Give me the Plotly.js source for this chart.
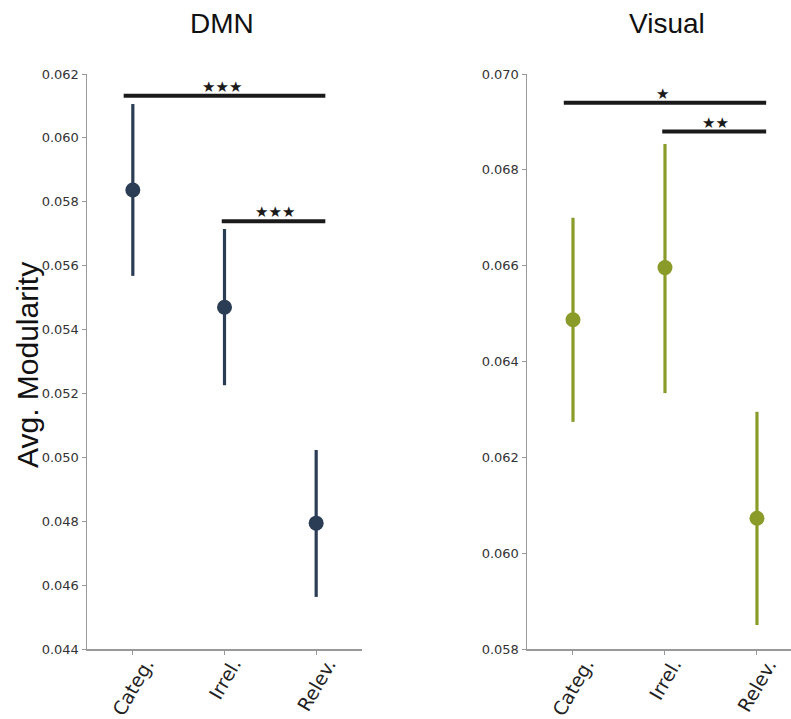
<!DOCTYPE html>
<html>
<head>
<meta charset="utf-8">
<script src="https://cdn.plot.ly/plotly-3.0.1.min.js"></script>
<style>
  html, body { margin: 0; padding: 0; background: #fff; }
  #chart { width: 791px; height: 719px; }
</style>
</head>
<body>
<div id="chart"></div>
<script>
// Conditions shared by both panels
const categories = ["Categ.", "Irrel.", "Relev."];

// DMN: mean modularity with upper / lower interval bounds
const dmnMean  = [0.05837, 0.05470, 0.04794];
const dmnUpper = [0.06106, 0.05715, 0.05023];
const dmnLower = [0.05568, 0.05226, 0.04563];

// Visual: mean modularity with upper / lower interval bounds
const visMean  = [0.06487, 0.06596, 0.06073];
const visUpper = [0.06700, 0.06854, 0.06295];
const visLower = [0.06274, 0.06334, 0.05850];

// Significance brackets: [from index, to index, height, stars]
const dmnSig = [[0, 2, 0.06132, "★★★"], [1, 2, 0.05739, "★★★"]];
const visSig = [[0, 2, 0.06940, "★"],   [1, 2, 0.06880, "★★"]];

const dmnColor = "#2b3d55";
const visColor = "#8a9b2a";

function trace(mean, upper, lower, color, xa, ya) {
  return {
    type: "scatter", mode: "markers",
    x: categories.map((c, i) => i), y: mean,
    xaxis: xa, yaxis: ya,
    marker: { color: color, size: 15 },
    error_y: {
      type: "data", symmetric: false,
      array: upper.map((u, i) => u - mean[i]),
      arrayminus: mean.map((m, i) => m - lower[i]),
      color: color, thickness: 3.2, width: 0
    },
    hoverinfo: "skip", showlegend: false
  };
}

const shapes = [];
const annotations = [];
function addSig(list, xa, ya) {
  list.forEach(([a, b, h, s]) => {
    shapes.push({
      type: "line", xref: xa, yref: ya,
      x0: a - 0.03 - (a === 0 ? 0.07 : 0), x1: b + 0.1, y0: h, y1: h,
      line: { color: "#1a1a1a", width: 4 }
    });
    annotations.push({
      xref: xa, yref: ya, x: (a + b + 0.1) / 2 - (a === 0 ? 0.08 : 0), y: h,
      text: s, showarrow: false, yanchor: "bottom", yshift: -2,
      font: { family: "DejaVu Sans", size: 15, color: "#1a1a1a" }
    });
  });
}
addSig(dmnSig, "x", "y");
addSig(visSig, "x2", "y2");

// Category labels, slanted and centred under each tick
function addCatLabels(xa, ya) {
  categories.forEach((c, i) => {
    annotations.push({
      xref: xa, yref: ya + " domain", x: i, y: 0,
      text: c, showarrow: false, textangle: -60,
      xanchor: "center", yanchor: "top", yshift: -3,
      font: { family: "DejaVu Sans", size: 19, color: "#222" }
    });
  });
}
addCatLabels("x", "y");
addCatLabels("x2", "y2");

// Panel titles
const titleFont = { family: "Liberation Sans, Arial", size: 28, color: "#111" };
annotations.push({ xref: "paper", yref: "paper", x: 222 / 791, y: 1, yshift: 51,
  text: "DMN", showarrow: false, xanchor: "center", yanchor: "middle", font: titleFont });
annotations.push({ xref: "paper", yref: "paper", x: 667 / 791, y: 1, yshift: 51,
  text: "Visual", showarrow: false, xanchor: "center", yanchor: "middle", font: titleFont });

// Shared y-axis title
annotations.push({ xref: "paper", yref: "paper", x: 27 / 791, y: (649 - 365) / 575,
  text: "Avg. Modularity", showarrow: false, textangle: -90,
  xanchor: "center", yanchor: "middle",
  font: { family: "Liberation Sans, Arial", size: 30, color: "#111" } });

const xCommon = {
  tickmode: "array", tickvals: [0, 1, 2], showticklabels: false,
  ticks: "outside", ticklen: 4, tickcolor: "#999",
  showline: true, linecolor: "#999", linewidth: 1.5,
  showgrid: false, zeroline: false
};
const yCommon = {
  ticks: "outside", ticklen: 4, tickcolor: "#999", tickformat: ".3f",
  showline: true, linecolor: "#999", linewidth: 1.5,
  showgrid: false, zeroline: false,
  tickfont: { family: "DejaVu Sans", size: 13, color: "#333" }
};

const layout = {
  width: 791, height: 719,
  margin: { l: 0, r: 0, t: 74, b: 70 },
  paper_bgcolor: "#fff", plot_bgcolor: "#fff",
  xaxis:  Object.assign({}, xCommon, { domain: [87 / 791, 362 / 791], range: [-0.5, 2.5] }),
  yaxis:  Object.assign({}, yCommon, { range: [0.044, 0.062], dtick: 0.002, tick0: 0.044 }),
  xaxis2: Object.assign({}, xCommon, { domain: [527 / 791, 1], range: [-0.5, 2.37], anchor: "y2" }),
  yaxis2: Object.assign({}, yCommon, { range: [0.058, 0.070], dtick: 0.002, tick0: 0.058, anchor: "x2" }),
  shapes: shapes,
  annotations: annotations
};

Plotly.newPlot("chart", [
  trace(dmnMean, dmnUpper, dmnLower, dmnColor, "x", "y"),
  trace(visMean, visUpper, visLower, visColor, "x2", "y2")
], layout, { displayModeBar: false, staticPlot: true });
</script>
</body>
</html>
